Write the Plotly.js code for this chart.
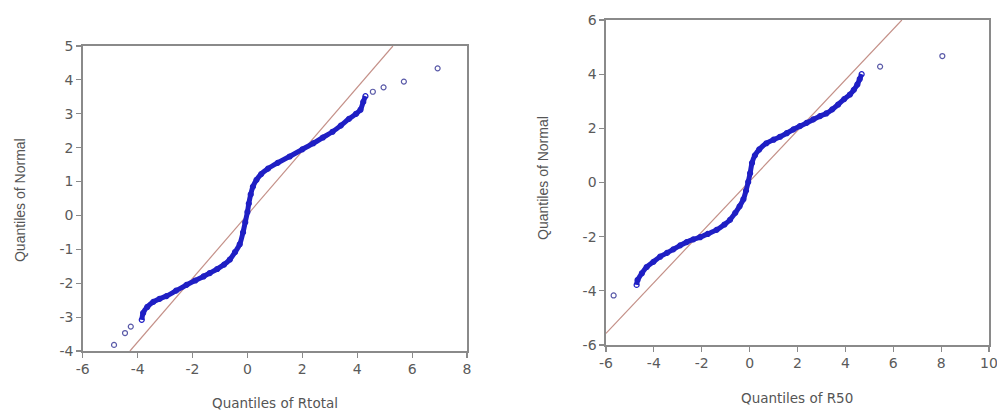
<!DOCTYPE html>
<html>
<head>
<meta charset="utf-8">
<script src="https://cdn.plot.ly/plotly-3.0.1.min.js"></script>
<style>html,body{margin:0;padding:0;background:#fff;}#chart{width:997px;height:410px;}</style>
</head>
<body>
<div id="chart"></div>
<script>
// ---- Left panel: Quantiles of Rtotal vs Quantiles of Normal ----
const rtotalBodyX = [-3.85,-3.80,-3.65,-3.43,-3.20,-2.95,-2.60,-2.22,-1.90,-1.60,-1.37,-1.10,-0.85,-0.64,-0.45,-0.28,-0.16,-0.08,0.00,0.05,0.12,0.20,0.33,0.50,0.75,1.10,1.54,2.00,2.40,2.75,3.10,3.40,3.70,3.96,4.12,4.22,4.30];
const rtotalBodyY = [-3.08,-2.88,-2.70,-2.55,-2.46,-2.38,-2.22,-2.05,-1.92,-1.80,-1.70,-1.58,-1.45,-1.30,-1.08,-0.85,-0.50,-0.20,0.10,0.35,0.62,0.85,1.05,1.22,1.38,1.55,1.74,1.95,2.13,2.30,2.47,2.65,2.85,3.00,3.12,3.35,3.52];
const rtotalTailX = [-4.86,-4.46,-4.25,4.57,4.96,5.70,6.93];
const rtotalTailY = [-3.82,-3.47,-3.28,3.65,3.78,3.95,4.34];
const rtotalRefX = [-4.28, 5.30];
const rtotalRefY = [-4.00, 5.00];
const rtotalXTicks = [-6, -4, -2, 0, 2, 4, 6, 8];
const rtotalXLabels = ['-6', '-4', '-2', '0', '2', '4', '6', '8'];
const rtotalYTicks = [-4, -3, -2, -1, 0, 1, 2, 3, 4, 5];
const rtotalYLabels = ['-4', '-3', '-2', '-1', '0', '1', '2', '3', '4', '5'];

// ---- Right panel: Quantiles of R50 vs Quantiles of Normal ----
const r50BodyX = [-4.72,-4.68,-4.50,-4.30,-4.02,-3.74,-3.45,-3.19,-2.90,-2.63,-2.35,-2.07,-1.75,-1.38,-1.05,-0.82,-0.60,-0.42,-0.26,-0.15,-0.06,0.02,0.10,0.22,0.40,0.70,1.00,1.27,1.55,1.83,2.10,2.38,2.66,2.94,3.20,3.45,3.70,3.95,4.19,4.35,4.50,4.60,4.68];
const r50BodyY = [-3.78,-3.60,-3.35,-3.12,-2.93,-2.74,-2.60,-2.47,-2.32,-2.20,-2.10,-2.02,-1.90,-1.75,-1.55,-1.38,-1.12,-0.88,-0.62,-0.30,0.02,0.34,0.72,1.00,1.22,1.45,1.58,1.69,1.82,1.96,2.08,2.20,2.33,2.45,2.55,2.70,2.88,3.08,3.25,3.42,3.62,3.82,4.00];
const r50TailX = [-5.68,5.45,8.05];
const r50TailY = [-4.17,4.28,4.67];
const r50RefX = [-6.00, 6.36];
const r50RefY = [-5.57, 6.00];
const r50XTicks = [-6, -4, -2, 0, 2, 4, 6, 8, 10];
const r50XLabels = ['-6', '-4', '-2', '0', '2', '4', '6', '8', '10'];
const r50YTicks = [-6, -4, -2, 0, 2, 4, 6];
const r50YLabels = ['-6', '-4', '-2', '0', '2', '4', '6'];

const blue = '#1f1fc4';
const refColor = '#c49088';
const grey = '#8a8a8a';
const tickFont = {family: 'DejaVu Sans, sans-serif', size: 14, color: '#5a5a5a'};

function bodyTrace(x, y, xa, ya) {
  return {x, y, xaxis: xa, yaxis: ya, type: 'scatter', mode: 'lines+markers',
    line: {color: blue, width: 5, shape: 'spline', smoothing: 0.8},
    marker: {symbol: 'circle-open', size: 5, color: blue, line: {width: 1.2}},
    hoverinfo: 'x+y', showlegend: false};
}
function tailTrace(x, y, xa, ya) {
  return {x, y, xaxis: xa, yaxis: ya, type: 'scatter', mode: 'markers',
    marker: {symbol: 'circle-open', size: 5, color: '#5a5aa8', line: {width: 1.2}},
    showlegend: false};
}
function refTrace(x, y, xa, ya) {
  return {x, y, xaxis: xa, yaxis: ya, type: 'scatter', mode: 'lines',
    line: {color: refColor, width: 1.2}, showlegend: false, hoverinfo: 'skip'};
}

const data = [
  refTrace(rtotalRefX, rtotalRefY, 'x', 'y'),
  bodyTrace(rtotalBodyX, rtotalBodyY, 'x', 'y'),
  tailTrace(rtotalTailX, rtotalTailY, 'x', 'y'),
  refTrace(r50RefX, r50RefY, 'x2', 'y2'),
  bodyTrace(r50BodyX, r50BodyY, 'x2', 'y2'),
  tailTrace(r50TailX, r50TailY, 'x2', 'y2')
];

function axis(range, tickvals, ticktext, domain, anchor) {
  return {range, tickmode: 'array', tickvals, ticktext, domain, anchor,
    showgrid: false, zeroline: false,
    showline: true, linecolor: grey, linewidth: 1.6, mirror: true,
    ticks: 'outside', ticklen: 5, tickwidth: 1.2, tickcolor: grey,
    tickfont: tickFont, ticklabeloverflow: 'allow', fixedrange: true};
}

const titleFontX = {family: 'DejaVu Sans, sans-serif', size: 13.5, color: '#555'};
const titleFontY = {family: 'Liberation Sans, Arial, sans-serif', size: 14, color: '#555'};

const layout = {
  width: 997, height: 410,
  margin: {l: 0, r: 0, t: 0, b: 0},
  paper_bgcolor: '#fff', plot_bgcolor: '#fff',
  showlegend: false,
  xaxis: axis([-6, 8], rtotalXTicks, rtotalXLabels, [0.083, 0.4684], 'y'),
  yaxis: axis([-4, 5], rtotalYTicks, rtotalYLabels, [0.1439, 0.8878], 'x'),
  xaxis2: axis([-6, 10], r50XTicks, r50XLabels, [0.6078, 0.992], 'y2'),
  yaxis2: axis([-6, 6], r50YTicks, r50YLabels, [0.1585, 0.9512], 'x2'),
  annotations: [
    {text: 'Quantiles of Rtotal', xref: 'paper', yref: 'paper', x: 0.2758, y: 0.017,
     xanchor: 'center', yanchor: 'middle', showarrow: false, font: titleFontX},
    {text: 'Quantiles of Normal', xref: 'paper', yref: 'paper', x: 0.02, y: 0.512,
     xanchor: 'center', yanchor: 'middle', textangle: -90, showarrow: false, font: titleFontY},
    {text: 'Quantiles of R50', xref: 'paper', yref: 'paper', x: 0.7994, y: 0.029,
     xanchor: 'center', yanchor: 'middle', showarrow: false, font: titleFontX},
    {text: 'Quantiles of Normal', xref: 'paper', yref: 'paper', x: 0.5446, y: 0.566,
     xanchor: 'center', yanchor: 'middle', textangle: -90, showarrow: false, font: titleFontY}
  ]
};

Plotly.newPlot('chart', data, layout, {displayModeBar: false, staticPlot: true});
</script>
</body>
</html>
